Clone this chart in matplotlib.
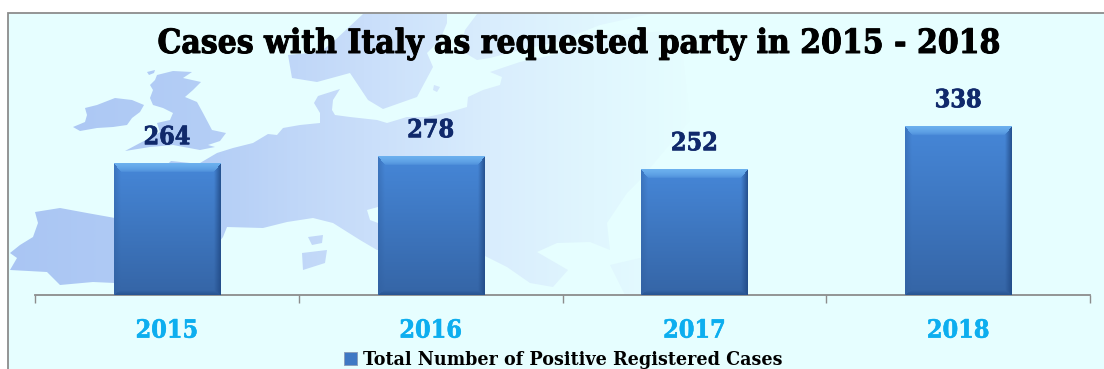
import numpy as np
import matplotlib
matplotlib.use("Agg")
import matplotlib.pyplot as plt
import matplotlib.patheffects as pe
from matplotlib.colors import LinearSegmentedColormap, to_rgb
from matplotlib.patches import Patch, PathPatch, Rectangle
from matplotlib.path import Path

years = ["2015", "2016", "2017", "2018"]
cases = [264, 278, 252, 338]
series_name = "Total Number of Positive Registered Cases"
title = "Cases with Italy as requested party in 2015 - 2018"

W, H = 1104, 369
FONT = {"family": "DejaVu Serif", "stretch": "condensed", "weight": "bold"}
BG = "#E6FEFF"
GREY = "#8C8C8C"

# Decorative Europe backdrop, outlined in figure pixels
IRELAND = [(73,127),(85,122),(87,115),(85,108),(97,105),(115,98),(132,100),(144,105),
           (140,112),(132,118),(127,125),(113,127),(97,128),(80,131)]
BRITAIN = [(157,75),(173,71),(192,72),(183,78),(201,82),(193,90),(185,97),(197,102),
           (203,113),(212,130),(226,133),(220,141),(208,145),(215,147),(200,150),
           (173,145),(150,147),(125,151),(140,143),(150,138),(160,132),(157,123),
           (170,120),(173,113),(163,108),(153,105),(150,98),(153,90),(150,85),(155,80)]
HEBRIDES = [(147,72),(155,70),(154,73),(149,75)]
MAINLAND = [(10,253),(20,245),(33,237),(38,223),(35,212),(60,208),(87,213),(115,218),
            (140,190),(171,161),(190,163),(200,163),(217,153),(233,148),(253,143),
            (268,134),(277,135),(283,128),(300,125),(320,123),(320,113),(314,103),
            (318,96),(340,89),(333,100),(332,110),(335,115),(350,117),(377,120),
            (387,123),(407,117),(427,117),(450,112),(467,107),(468,97),(483,90),
            (500,85),(502,77),(490,72),(520,62),(557,54),(593,32),(613,35),(680,30),
            (690,120),(640,180),(627,193),(607,223),(610,250),(590,242),(557,243),
            (537,252),(568,270),(553,287),(530,283),(507,267),(483,255),(440,250),
            (377,250),(360,240),(333,223),(313,218),(287,222),(263,228),(227,227),
            (223,237),(213,250),(115,283),(93,282),(60,285),(47,272),(10,270),(17,258)]
ADRIATIC_GAP = [(367,210),(378,207),(378,223),(370,220)]
SCANDINAVIA = [(363,14),(333,42),(320,52),(288,55),(292,78),(317,82),(350,73),(368,100),
               (383,109),(417,97),(433,67),(427,53),(440,40),(447,23),(447,14)]
FINLAND = [(477,14),(465,30),(460,50),(477,60),(490,58),(520,50),(557,42),(600,25),(650,14)]
TURKEY = [(610,265),(640,258),(700,262),(700,295),(625,295)]
CORSICA = [(308,237),(323,235),(322,243),(312,245)]
SARDINIA = [(302,253),(327,250),(325,263),(303,270)]
GOTLAND = [(434,85),(440,87),(437,92),(433,90)]
LANDS = [IRELAND, BRITAIN, HEBRIDES, MAINLAND, SCANDINAVIA, FINLAND, TURKEY,
         CORSICA, SARDINIA, GOTLAND]


def compound(polygons):
    verts, codes = [], []
    for poly in polygons:
        verts += list(poly) + [poly[0]]
        codes += [Path.MOVETO] + [Path.LINETO] * (len(poly) - 1) + [Path.CLOSEPOLY]
    return Path(verts, codes)


def heavier(colour, width=0.5):
    return [pe.withStroke(linewidth=width, foreground=colour)]


fig = plt.figure(figsize=(W / 100, H / 100), dpi=100, facecolor="white")

# Panel background, frame and map
back = fig.add_axes([0, 0, 1, 1])
back.set_xlim(0, W)
back.set_ylim(H, 0)
back.axis("off")
back.add_patch(Rectangle((8, 13), W, H, facecolor=BG, edgecolor=GREY, lw=1.3))

land_cmap = LinearSegmentedColormap.from_list(
    "land",
    [(0.0, "#A9C5F3"), (0.30, "#B4CEF6"), (0.52, "#C9DEFA"), (0.70, "#D9EDFD"),
     (0.85, "#E0F6FE"), (1.0, BG)],
)
land_img = back.imshow(np.linspace(0, 1, 512).reshape(1, -1), cmap=land_cmap,
                       extent=(0, 700, H, 0), aspect="auto", vmin=0, vmax=1, zorder=1)
land_img.set_clip_path(PathPatch(compound(LANDS), transform=back.transData))
back.add_patch(PathPatch(compound([ADRIATIC_GAP]), facecolor=BG, edgecolor="none", zorder=2))
back.set_xlim(0, W)
back.set_ylim(H, 0)

# Chart area: the baseline sits at y=295 and one case spans half a pixel
ax = fig.add_axes([35 / W, (H - 295) / H, 1055 / W, 281 / H])
ax.patch.set_visible(False)
x = np.arange(len(years))
ax.set_xlim(-0.5, len(years) - 0.5)
ax.set_ylim(0, 562)

bars = ax.bar(x, cases, width=0.402, color="#3F78C4", edgecolor="#7E93AC", linewidth=0.7, zorder=2)


def bevel_image(w, h):
    """Shaded bar face with mitred bevel edges, one sample per pixel."""
    ys, xs = np.mgrid[0:h, 0:w] + 0.5
    t = (ys / h)[..., None]
    top, bottom = np.array(to_rgb("#4687D8")), np.array(to_rgb("#3565A6"))
    img = top * (1 - t) + bottom * t
    edges = np.stack([ys / 9.0, (h - ys) / 5.0, xs / 7.0, (w - xs) / 7.0])
    which = edges.argmin(axis=0)
    depth = edges.min(axis=0)
    strong = np.clip(1 - depth, 0, 1)[..., None]
    tints = [("#6FB4F0", 0.95), ("#244F8C", 0.85), ("#2F5E9E", 0.45), ("#214A86", 0.9)]
    for k, (colour, amount) in enumerate(tints):
        mask = (which == k)[..., None] & (strong > 0)
        a = amount * np.sqrt(strong) if k == 0 else amount * strong
        blended = img * (1 - a) + np.array(to_rgb(colour)) * a
        img = np.where(mask, blended, img)
    return img


for rect, value in zip(bars, cases):
    box = rect.get_window_extent(fig.canvas.get_renderer())
    face = bevel_image(max(int(round(box.width)), 2), max(int(round(box.height)), 2))
    im = ax.imshow(face, extent=(rect.get_x(), rect.get_x() + rect.get_width(), 0, value),
                   aspect="auto", zorder=3, interpolation="bilinear")
    im.set_clip_path(rect)
    ax.annotate(str(value), (rect.get_x() + rect.get_width() / 2, value),
                xytext=(0, 13.5), textcoords="offset points", ha="center", va="baseline",
                fontsize=18, color="#10296B", zorder=4, path_effects=heavier("#10296B"), **FONT)
ax.set_xlim(-0.5, len(years) - 0.5)
ax.set_ylim(0, 562)

for side in ("top", "left", "right"):
    ax.spines[side].set_visible(False)
ax.spines["bottom"].set_color(GREY)
ax.spines["bottom"].set_linewidth(1.3)
ax.set_yticks([])
ax.set_xticks(x)
ax.set_xticks(np.arange(len(years) + 1) - 0.5, minor=True)
ax.tick_params(axis="x", which="minor", length=5.8, width=1.0, color=GREY, direction="out")
ax.tick_params(axis="x", which="major", length=0, pad=17)
ax.set_xticklabels(years, fontsize=18, color="#0DAEEF", path_effects=heavier("#0DAEEF", 0.4), **FONT)

fig.text(579 / W, 1 - 53 / H, title, ha="center", va="baseline",
         fontsize=24, color="black", path_effects=heavier("black", 0.7), **FONT)

fig.legend(handles=[Patch(facecolor="#3F78C4", edgecolor="#8CA0BC", lw=0.7, label=series_name)],
           loc="center", bbox_to_anchor=(563 / W, 1 - 360 / H), frameon=False,
           handlelength=0.67, handleheight=0.67, handletextpad=0.3, borderpad=0,
           prop={"family": "DejaVu Serif", "stretch": "condensed", "weight": "bold", "size": 14})

fig.savefig("out.png", dpi=100, facecolor="white")
